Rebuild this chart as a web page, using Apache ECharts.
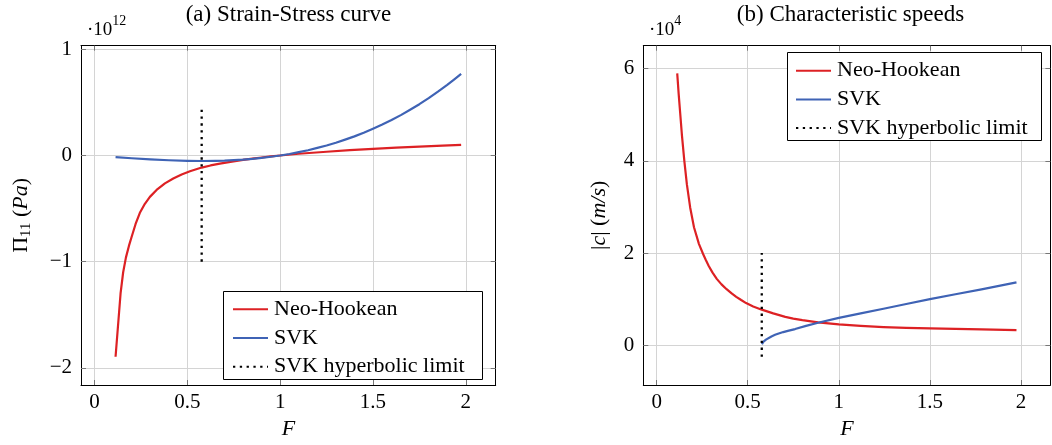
<!DOCTYPE html>
<html>
<head>
<meta charset="utf-8">
<script src="https://cdn.jsdelivr.net/npm/echarts@6/dist/echarts.min.js"></script>
<style>
html,body{margin:0;padding:0;background:#fff;}
#chart{width:1052px;height:445px;}
</style>
</head>
<body>
<div id="chart"></div>
<script>
// ---- data ----
const xTicks = [0, 0.5, 1, 1.5, 2];
const stressTicks = [-2, -1, 0, 1];
const speedTicks = [0, 2, 4, 6];
const seriesNames = ['Neo-Hookean', 'SVK', 'SVK hyperbolic limit'];

// (a) strain-stress, values in 1e12 Pa
const nhF = [0.113, 0.14, 0.154, 0.169, 0.185, 0.199, 0.221, 0.244, 0.271, 0.298, 0.334, 0.379, 0.424, 0.469, 0.514, 0.577, 0.625, 0.675, 0.74, 0.8, 0.85, 0.9, 0.95, 1.0, 1.1, 1.25, 1.375, 1.5, 1.625, 1.75, 1.875, 1.975];
const nhStress = [-1.896, -1.30, -1.10, -0.96, -0.852, -0.77, -0.645, -0.54, -0.455, -0.39, -0.325, -0.263, -0.217, -0.179, -0.149, -0.114, -0.094, -0.077, -0.058, -0.042, -0.030, -0.019, -0.009, 0, 0.016, 0.035, 0.05, 0.062, 0.073, 0.083, 0.092, 0.099];
const svkF = [0.113, 0.2, 0.3, 0.4, 0.5, 0.577, 0.65, 0.7, 0.75, 0.8, 0.85, 0.9, 0.95, 1.0, 1.05, 1.1, 1.15, 1.2, 1.25, 1.3, 1.35, 1.4, 1.45, 1.5, 1.55, 1.6, 1.65, 1.7, 1.75, 1.8, 1.85, 1.9, 1.94, 1.975];
const svkStress = [-0.015, -0.026, -0.037, -0.045, -0.050, -0.052, -0.050, -0.048, -0.044, -0.039, -0.032, -0.023, -0.012, 0, 0.014, 0.031, 0.049, 0.071, 0.094, 0.120, 0.149, 0.180, 0.214, 0.252, 0.291, 0.334, 0.380, 0.431, 0.483, 0.540, 0.601, 0.665, 0.719, 0.768];
const limitF = [0.577, 0.577];
const limitStress = [-1, 0.47];

// (b) characteristic speeds, values in 1e4 m/s
const nhSpeedF = [0.113, 0.121, 0.129, 0.139, 0.152, 0.166, 0.184, 0.205, 0.232, 0.255, 0.27, 0.286, 0.307, 0.33, 0.356, 0.384, 0.41, 0.437, 0.464, 0.491, 0.53, 0.577, 0.64, 0.706, 0.75, 0.8, 0.886, 1.0, 1.12, 1.245, 1.37, 1.5, 1.64, 1.783, 1.975];
const nhSpeed = [5.9, 5.45, 5.05, 4.55, 4.0, 3.49, 2.99, 2.56, 2.2, 1.98, 1.85, 1.72, 1.575, 1.44, 1.32, 1.215, 1.13, 1.05, 0.98, 0.914, 0.84, 0.771, 0.69, 0.614, 0.578, 0.545, 0.497, 0.45, 0.418, 0.393, 0.376, 0.364, 0.352, 0.343, 0.329];
const svkSpeedF = [0.578, 0.581, 0.585, 0.592, 0.6, 0.61, 0.63, 0.65, 0.67, 0.695, 0.72, 0.76, 0.82, 0.886, 1.0, 1.12, 1.245, 1.37, 1.5, 1.64, 1.783, 1.975];
const svkSpeed = [0.02, 0.05, 0.07, 0.10, 0.12, 0.15, 0.19, 0.225, 0.255, 0.285, 0.31, 0.35, 0.42, 0.486, 0.593, 0.69, 0.79, 0.895, 1.0, 1.105, 1.21, 1.364];
const limitSpeed = [-0.25, 2.0];

// ---- styling ----
const FONT = 'Liberation Serif';
const RED = '#dd2124';
const BLUE = '#3f63b5';
const pairs = (xs, ys) => xs.map((x, i) => [x, ys[i]]);
const fmt = v => String(v).replace('-', '\u2212');

function xAxisPair(grid, name) {
  return [
    {
      gridIndex: grid, type: 'value', position: 'bottom', min: -0.0732, max: 2.1612,
      axisLine: {show: true, onZero: false, lineStyle: {color: '#000', width: 1}},
      axisTick: {show: true, inside: true, length: 5, customValues: xTicks, lineStyle: {color: '#777'}},
      axisLabel: {show: true, customValues: xTicks, formatter: fmt, margin: 7, fontFamily: FONT, fontSize: 21, color: '#000'},
      splitLine: {show: true, lineStyle: {color: '#d4d4d4', width: 1}},
      name: name, nameLocation: 'middle', nameGap: 33,
      nameTextStyle: {fontFamily: FONT, fontSize: 22, fontStyle: 'italic', color: '#000'}
    },
    {
      gridIndex: grid, type: 'value', position: 'top', min: -0.0732, max: 2.1612,
      axisLine: {show: true, onZero: false, lineStyle: {color: '#000', width: 1}},
      axisTick: {show: true, inside: true, length: 5, customValues: xTicks, lineStyle: {color: '#777'}},
      axisLabel: {show: false}, splitLine: {show: false}
    }
  ];
}
function yAxisPair(grid, min, max, ticks, name, rich, gap) {
  return [
    {
      gridIndex: grid, type: 'value', position: 'left', min: min, max: max,
      axisLine: {show: true, onZero: false, lineStyle: {color: '#000', width: 1}},
      axisTick: {show: true, inside: true, length: 5, customValues: ticks, lineStyle: {color: '#777'}},
      axisLabel: {show: true, customValues: ticks, formatter: fmt, margin: 9, fontFamily: FONT, fontSize: 21, color: '#000'},
      splitLine: {show: true, lineStyle: {color: '#d4d4d4', width: 1}},
      name: name, nameLocation: 'middle', nameGap: gap,
      nameTextStyle: {fontFamily: FONT, fontSize: 21, color: '#000', rich: rich}
    },
    {
      gridIndex: grid, type: 'value', position: 'right', min: min, max: max,
      axisLine: {show: true, onZero: false, lineStyle: {color: '#000', width: 1}},
      axisTick: {show: true, inside: true, length: 5, customValues: ticks, lineStyle: {color: '#777'}},
      axisLabel: {show: false}, splitLine: {show: false}
    }
  ];
}

const baseRich = {
  n: {fontFamily: FONT, fontSize: 22, lineHeight: 26, color: '#000'},
  s: {fontFamily: FONT, fontSize: 15, lineHeight: 15, verticalAlign: 'bottom', color: '#000'},
  i: {fontFamily: FONT, fontSize: 22, lineHeight: 26, fontStyle: 'italic', color: '#000'}
};

function lineSeries(name, data, xi, yi, color, dotted) {
  return {
    name: name, type: 'line', data: data, xAxisIndex: xi, yAxisIndex: yi,
    showSymbol: false, symbol: 'none', smooth: false, clip: true,
    lineStyle: dotted ? {color: color, width: 2.3, type: [2.3, 4.5], cap: 'butt'} : {color: color, width: 2.2, join: 'round'},
    itemStyle: {color: color}, z: dotted ? 3 : 2
  };
}

function legendAt(left, top) {
  return {
    orient: 'vertical', left: left, top: top, padding: 0, itemGap: 6.7,
    itemWidth: 35, itemHeight: 14, z: 20,
    data: seriesNames, selectedMode: false,
    itemStyle: {color: 'rgba(0,0,0,0)', borderColor: 'rgba(0,0,0,0)', borderWidth: 0, opacity: 0},
    textStyle: {fontFamily: FONT, fontSize: 22, lineHeight: 20, color: '#000', padding: [0, 0, 0, 1]}
  };
}

const expRich = {
  m: {fontFamily: FONT, fontSize: 19, lineHeight: 22, color: '#000'},
  p: {fontFamily: FONT, fontSize: 14, lineHeight: 32, verticalAlign: 'top', color: '#000'}
};

const chart = echarts.init(document.getElementById('chart'), null, {renderer: 'canvas'});
chart.setOption({
  animation: false,
  backgroundColor: '#fff',
  grid: [
    {left: 81, top: 45.7, width: 414.7, height: 343.6, containLabel: false},
    {left: 643.3, top: 45.7, width: 407.1, height: 343.6, containLabel: false}
  ],
  xAxis: [...xAxisPair(0, 'F'), ...xAxisPair(1, 'F')],
  yAxis: [
    ...yAxisPair(0, -2.162, 1.034, stressTicks, '{n|\u03A0}{s|11}{n| (}{i|Pa}{n|)}', baseRich, 47),
    ...yAxisPair(1, -0.864, 6.5, speedTicks, '{n||}{i|c}{n|| (}{i|m/s}{n|)}', baseRich, 31)
  ],
  legend: [legendAt(232, 298.3), legendAt(795, 59.7)],
  graphic: [
    {type: 'rect', z: 10, shape: {x: 223.5, y: 291.5, width: 259, height: 88}, style: {fill: '#fff', stroke: '#000', lineWidth: 1}},
    {type: 'rect', z: 10, shape: {x: 787.5, y: 52.5, width: 254, height: 88}, style: {fill: '#fff', stroke: '#000', lineWidth: 1}},
    {type: 'text', z: 10, x: 288.5, y: 15, style: {text: '(a) Strain-Stress curve', font: '23px "Liberation Serif"', fill: '#000', align: 'center', verticalAlign: 'middle'}},
    {type: 'text', z: 10, x: 850.5, y: 15, style: {text: '(b) Characteristic speeds', font: '23px "Liberation Serif"', fill: '#000', align: 'center', verticalAlign: 'middle'}},
    {type: 'text', z: 10, x: 87, y: 30, style: {text: '{m|\u00B710}{p|12}', rich: expRich, align: 'left', verticalAlign: 'middle'}},
    {type: 'text', z: 10, x: 649, y: 30, style: {text: '{m|\u00B710}{p|4}', rich: expRich, align: 'left', verticalAlign: 'middle'}}
  ],
  series: [
    lineSeries(seriesNames[0], pairs(nhF, nhStress), 0, 0, RED, false),
    lineSeries(seriesNames[1], pairs(svkF, svkStress), 0, 0, BLUE, false),
    lineSeries(seriesNames[2], pairs(limitF, limitStress), 0, 0, '#000', true),
    lineSeries(seriesNames[0], pairs(nhSpeedF, nhSpeed), 2, 2, RED, false),
    lineSeries(seriesNames[1], pairs(svkSpeedF, svkSpeed), 2, 2, BLUE, false),
    lineSeries(seriesNames[2], pairs(limitF, limitSpeed), 2, 2, '#000', true)
  ]
});
</script>
</body>
</html>
